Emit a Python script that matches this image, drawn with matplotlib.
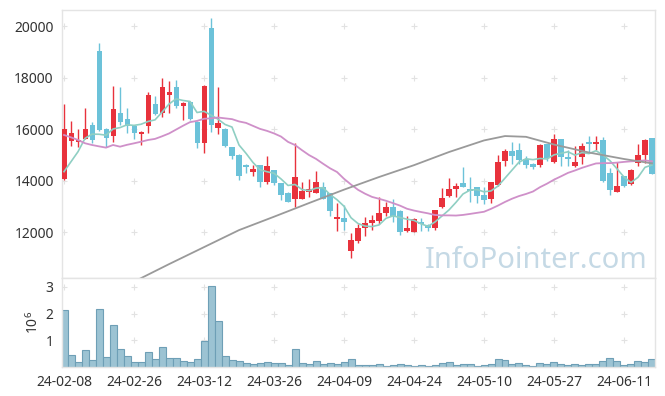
import numpy as np
import pandas as pd
import matplotlib
matplotlib.use('Agg')
import matplotlib.pyplot as plt

plt.rcParams['font.family'] = ['Noto Sans', 'DejaVu Sans']
plt.rcParams['mathtext.default'] = 'regular'

# daily prices
open_ = [14064, 15551, 15500, 15629, 16159, 19030, 16004, 15745, 16625, 16392,
         16133, 15823, 16133, 16974, 16638, 17336, 17620, 16909, 17065, 16276,
         15474, 19910, 16056, 16004, 15306, 14995, 14607, 14348, 14607, 13934,
         14413, 13922, 13508, 13275, 13301, 13573, 13534, 13767, 13534, 12500,
         12538, 11283, 11671, 12150, 12344, 12447, 12732, 12990, 12835, 12059,
         12021, 12370, 12279, 12150, 12991, 13417, 13663, 13922, 13689, 13767,
         13443, 13288, 13831, 14762, 15150, 15189, 14840, 14659, 14607, 15422,
         14736, 15616, 14892, 14581, 14930, 15512, 15422, 15577, 14310, 13573,
         14193, 13857, 14700, 15000, 15668]
close = [16004, 15849, 15577, 16004, 15590, 15978, 15668, 16780, 16276, 16133,
         15862, 15888, 17323, 16586, 17620, 17440, 16896, 17013, 16392, 15474,
         17672, 16159, 16237, 15357, 14969, 14193, 14543, 14452, 13960, 14581,
         13895, 13443, 13185, 14154, 13598, 13676, 13934, 13275, 12835, 12577,
         12408, 11706, 12150, 12344, 12473, 12732, 12990, 12628, 12021, 12150,
         12499, 12318, 12150, 12861, 13314, 13676, 13792, 13767, 13611, 13417,
         13249, 13961, 14710, 15150, 14969, 14801, 14607, 14543, 15383, 14866,
         15603, 14905, 14840, 14736, 15357, 15409, 15461, 14000, 13637, 13792,
         13805, 14413, 14995, 15577, 14258]
high = [16974, 16301, 15991, 16819, 16263, 19354, 16030, 17672, 17620, 16806,
        16159, 15939, 17440, 17284, 17970, 17866, 17892, 17065, 17065, 16327,
        17700, 20298, 17620, 16030, 15306, 15034, 14646, 14607, 14607, 14956,
        14413, 13922, 13572, 15448, 13960, 14064, 14387, 13960, 13534, 13146,
        13055, 11950, 12318, 12603, 12667, 13378, 13185, 13290, 12861, 12628,
        12538, 12560, 12330, 12861, 13702, 14090, 13922, 14543, 14154, 13767,
        13767, 13961, 14995, 15228, 15513, 15474, 14969, 14698, 15409, 15422,
        15810, 15616, 15189, 15357, 15448, 15732, 15745, 15706, 14478, 14710,
        14193, 14439, 15415, 15616, 15668]
low = [14012, 15357, 15306, 15629, 15448, 15940, 15306, 15487, 16159, 15836,
       15629, 15370, 15836, 16547, 16482, 16612, 16806, 16353, 16353, 15254,
       15086, 15900, 15797, 15320, 14827, 14025, 14284, 14193, 13740, 13870,
       13831, 13249, 13159, 12990, 13275, 13378, 13534, 13275, 12628, 12059,
       12085, 10986, 11594, 11860, 12100, 12318, 12615, 12380, 11892, 12021,
       11990, 12040, 12059, 12100, 12950, 13352, 13352, 13741, 13185, 13146,
       13094, 13120, 13792, 14581, 14633, 14646, 14478, 14439, 14543, 14762,
       14672, 14568, 14581, 14543, 14633, 15080, 15189, 13960, 13443, 13573,
       13767, 13831, 14568, 14700, 14258]

# volume, millions of shares
volume = [2.12, 0.45, 0.19, 0.63, 0.26, 2.16, 0.37, 1.57, 0.67, 0.41,
          0.19, 0.19, 0.56, 0.30, 0.75, 0.34, 0.34, 0.22, 0.19, 0.30,
          0.97, 3.02, 1.71, 0.41, 0.26, 0.22, 0.15, 0.11, 0.15, 0.19,
          0.15, 0.15, 0.07, 0.67, 0.15, 0.11, 0.22, 0.11, 0.15, 0.11,
          0.19, 0.30, 0.07, 0.07, 0.07, 0.11, 0.04, 0.07, 0.11, 0.07,
          0.04, 0.07, 0.04, 0.07, 0.15, 0.19, 0.07, 0.11, 0.11, 0.04,
          0.07, 0.11, 0.30, 0.26, 0.11, 0.15, 0.07, 0.04, 0.15, 0.11,
          0.19, 0.11, 0.07, 0.11, 0.07, 0.11, 0.11, 0.22, 0.34, 0.22,
          0.07, 0.11, 0.22, 0.19, 0.30]

# moving averages: first points depend on earlier days, so read them off
ma5_head = [14348, 14736, 15124, 15641]
ma20_head = [15771, 15680, 15577, 15450, 15383, 15330, 15280, 15383, 15318, 15390,
             15448, 15510, 15577, 15620, 15720, 15830, 15980, 16130, 16270]
# long moving average (gray), read at a few days
ma_long_idx = [10, 15, 20, 25, 30, 35, 40, 45, 50, 55, 60, 63, 66, 70, 75, 80, 84]
ma_long_val = [10080, 10760, 11420, 12080, 12600, 13130, 13650, 14140, 14600, 15110,
               15560, 15730, 15700, 15400, 15090, 14840, 14670]

tick_pos = [0, 10, 20, 30, 40, 50, 60, 70, 80]
tick_labels = ['24-02-08', '24-02-26', '24-03-12', '24-03-26', '24-04-09',
               '24-04-24', '24-05-10', '24-05-27', '24-06-11']

RED = '#e8323c'
BLUE = '#6cc2d9'
BORDER = '#e4e4e4'

o = np.array(open_, float)
c = np.array(close, float)
h = np.array(high, float)
l = np.array(low, float)
x = np.arange(len(c))
cols = np.where(c >= o, RED, BLUE)

s = pd.Series(c)
ma5 = s.rolling(5).mean().to_numpy()
ma5[:4] = ma5_head
ma20 = s.rolling(20).mean().to_numpy()
ma20[:19] = ma20_head

fig = plt.figure(figsize=(6.65, 3.96), dpi=100)
ax = fig.add_axes([62/665, 1-278/396, 593/665, 268/396])
axv = fig.add_axes([62/665, 1-367/396, 593/665, 89/396], sharex=ax)

# candles
ax.vlines(x, l, h, colors=cols, lw=1.0, zorder=2)
body_h = np.maximum(np.abs(c - o), 70)
ax.bar(x, body_h, bottom=np.minimum(o, c), width=0.72, color=cols, lw=0, zorder=3)

ax.plot(x, ma5, color='#8fcfc3', lw=1.2, zorder=4)
ax.plot(x, ma20, color='#cf90c9', lw=1.3, zorder=4)
ax.plot(ma_long_idx, ma_long_val, color='#9a9a9a', lw=1.3, zorder=4)

ax.text(0.988, 0.037, 'InfoPointer.com', transform=ax.transAxes, ha='right',
        va='baseline', fontsize=21, color='#c5d9e5', zorder=1)

# volume
axv.bar(x, volume, width=1.0, color='#9cc3d3', edgecolor='#6e9fb6', lw=0.8)

yt = [12000, 14000, 16000, 18000, 20000]
vt = [1, 2, 3]
gx, gy = np.meshgrid(tick_pos, yt)
ax.plot(gx.ravel(), gy.ravel(), '+', color='#e2e2e2', ms=4, mew=0.8, zorder=0)
gx, gy = np.meshgrid(tick_pos, vt)
axv.plot(gx.ravel(), gy.ravel(), '+', color='#e2e2e2', ms=4, mew=0.8, zorder=0)

ax.set_xlim(-0.29, 84.43)
ax.set_ylim(10222, 20621)
axv.set_ylim(0, 3.33)
ax.set_yticks(yt)
axv.set_yticks(vt)
axv.set_xticks(tick_pos)
axv.set_xticklabels(tick_labels)
ax.tick_params(axis='x', labelbottom=False)
axv.set_ylabel('$10^6$', fontsize=10, color='#333333', labelpad=3)

for a in (ax, axv):
    a.tick_params(length=0, labelsize=10, labelcolor='#333333', pad=6)
    for sp in a.spines.values():
        sp.set_color(BORDER)
        sp.set_linewidth(1)

fig.savefig('out.png', dpi=100)
